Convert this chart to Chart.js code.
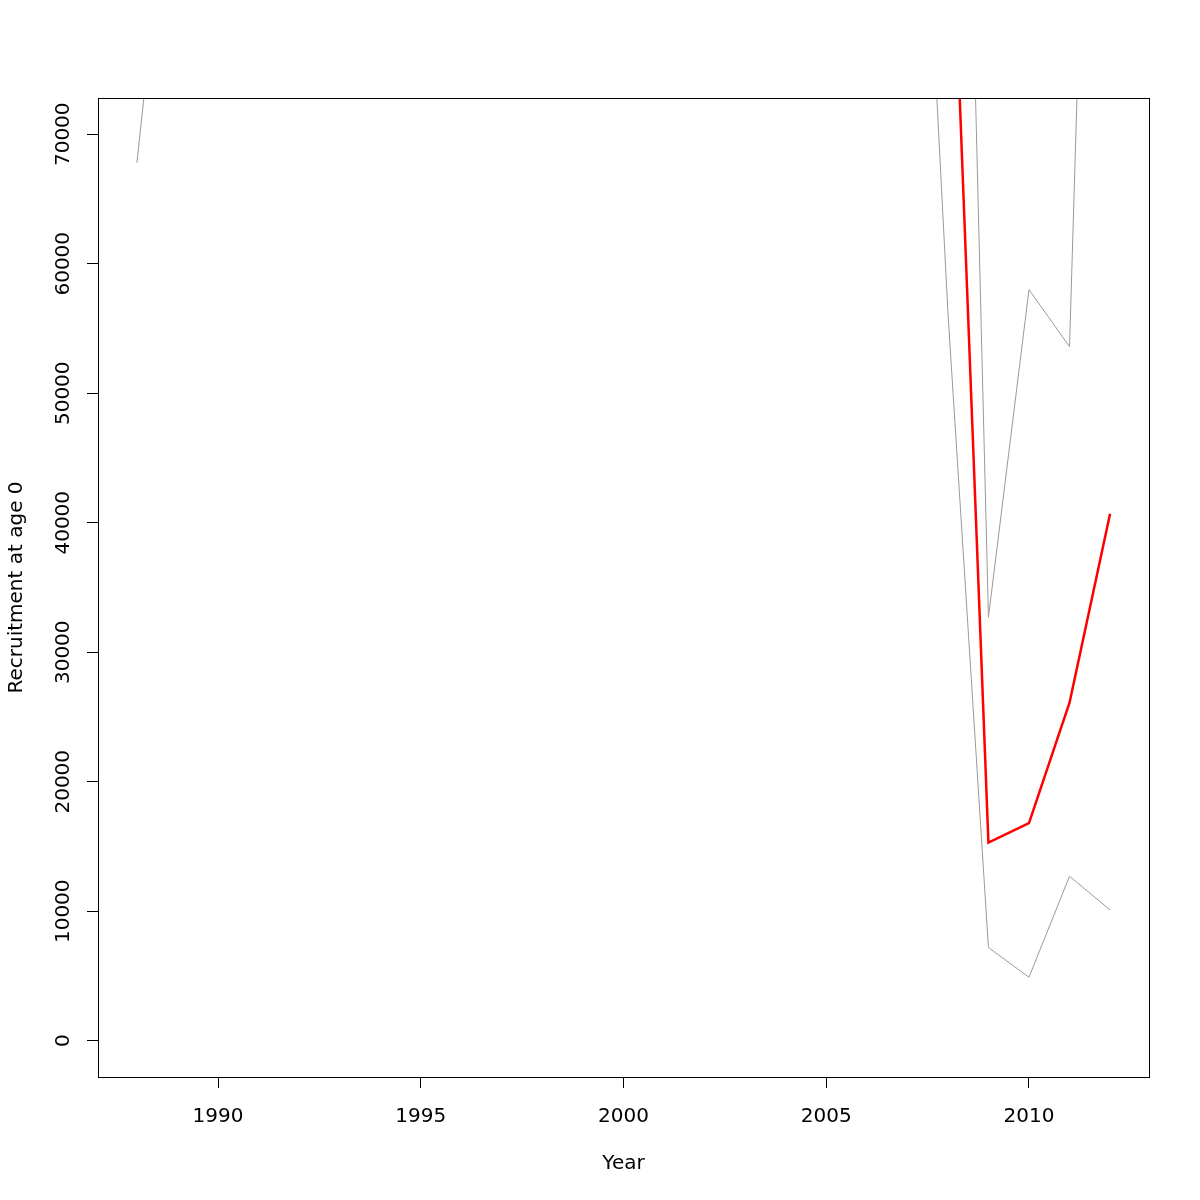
<!DOCTYPE html>
<html>
<head>
<meta charset="utf-8">
<script src="https://cdn.jsdelivr.net/npm/chart.js@4/dist/chart.umd.min.js"></script>
<style>
  html, body { margin: 0; padding: 0; background: #ffffff; }
  #wrap { width: 1200px; height: 1200px; }
</style>
</head>
<body>
<div id="wrap"><canvas id="c" width="1200" height="1200"></canvas></div>
<script>
// Years
const years = [1988,1989,1990,1991,1992,1993,1994,1995,1996,1997,1998,1999,2000,
               2001,2002,2003,2004,2005,2006,2007,2008,2009,2010,2011,2012];
// Estimated recruitment at age 0 (values above ~72800 lie off the visible panel; estimated)
const estimate = [160000,230000,210000,190000,260000,240000,200000,180000,220000,250000,
                  210000,190000,230000,200000,170000,210000,240000,190000,160000,180000,
                  96500,15300,16800,26100,40700];
// Lower confidence bound
const lower = [67800,97000,120000,110000,150000,140000,115000,105000,130000,145000,
               120000,110000,135000,115000,100000,120000,140000,110000,95000,117000,
               56300,7200,4900,12700,10100];
// Upper confidence bound
const upper = [260000,380000,350000,320000,430000,400000,330000,300000,370000,410000,
               350000,320000,380000,330000,290000,350000,400000,320000,280000,300000,
               159000,32700,58000,53600,158000];
// Tick labels
const xTicks = [1990,1995,2000,2005,2010];
const yTicks = [0,10000,20000,30000,40000,50000,60000,70000];
const xRange = [1987.04, 2012.96];
const yRange = [-2800, 72800];

const toPts = arr => years.map((yr, i) => ({x: yr, y: arr[i]}));
const FONT = {family: "'DejaVu Sans'", size: 20};

const boxPlugin = {
  id: 'box',
  afterDraw(chart) {
    const {ctx, chartArea: a} = chart;
    ctx.save();
    ctx.strokeStyle = '#000';
    ctx.lineWidth = 1;
    ctx.strokeRect(Math.round(a.left) + 0.5, Math.round(a.top) + 0.5,
                   Math.round(a.right - a.left), Math.round(a.bottom - a.top));
    ctx.restore();
  }
};

new Chart(document.getElementById('c'), {
  type: 'line',
  data: {
    datasets: [
      {label: 'Estimate', data: toPts(estimate), borderColor: '#ff0000', borderWidth: 2.5,
       pointRadius: 0, tension: 0, fill: false, clip: 0},
      {label: 'Lower', data: toPts(lower), borderColor: '#9a9a9a', borderWidth: 1,
       pointRadius: 0, tension: 0, fill: false, clip: 0},
      {label: 'Upper', data: toPts(upper), borderColor: '#9a9a9a', borderWidth: 1,
       pointRadius: 0, tension: 0, fill: false, clip: 0}
    ]
  },
  options: {
    responsive: false,
    devicePixelRatio: 1,
    animation: false,
    layout: {padding: {left: 0, top: 98, right: 51, bottom: 0}},
    plugins: {legend: {display: false}, tooltip: {enabled: false}},
    scales: {
      x: {
        type: 'linear', position: 'bottom', min: xRange[0], max: xRange[1],
        afterBuildTicks: s => { s.ticks = xTicks.map(v => ({value: v})); },
        afterFit: s => { s.height = 123; },
        grid: {drawOnChartArea: false, drawTicks: true, tickLength: 11, tickColor: '#000', lineWidth: 1},
        border: {display: false},
        ticks: {font: FONT, color: '#000', padding: 17, maxRotation: 0, autoSkip: false,
                callback: v => String(v)},
        title: {display: true, text: 'Year', font: FONT, color: '#000', padding: {top: 0, bottom: 24}}
      },
      y: {
        type: 'linear', position: 'left', min: yRange[0], max: yRange[1],
        afterBuildTicks: s => { s.ticks = yTicks.map(v => ({value: v})); },
        afterFit: s => { s.width = 98; },
        grid: {drawOnChartArea: false, drawTicks: true, tickLength: 11, tickColor: '#000', lineWidth: 1},
        border: {display: false},
        ticks: {font: FONT, color: '#000', padding: -9, minRotation: 90, maxRotation: 90,
                crossAlign: 'center', autoSkip: false, callback: v => String(v)},
        title: {display: true, text: 'Recruitment at age 0', font: FONT, color: '#000',
                padding: {top: 5, bottom: 0}}
      }
    }
  },
  plugins: [boxPlugin]
});
</script>
</body>
</html>
